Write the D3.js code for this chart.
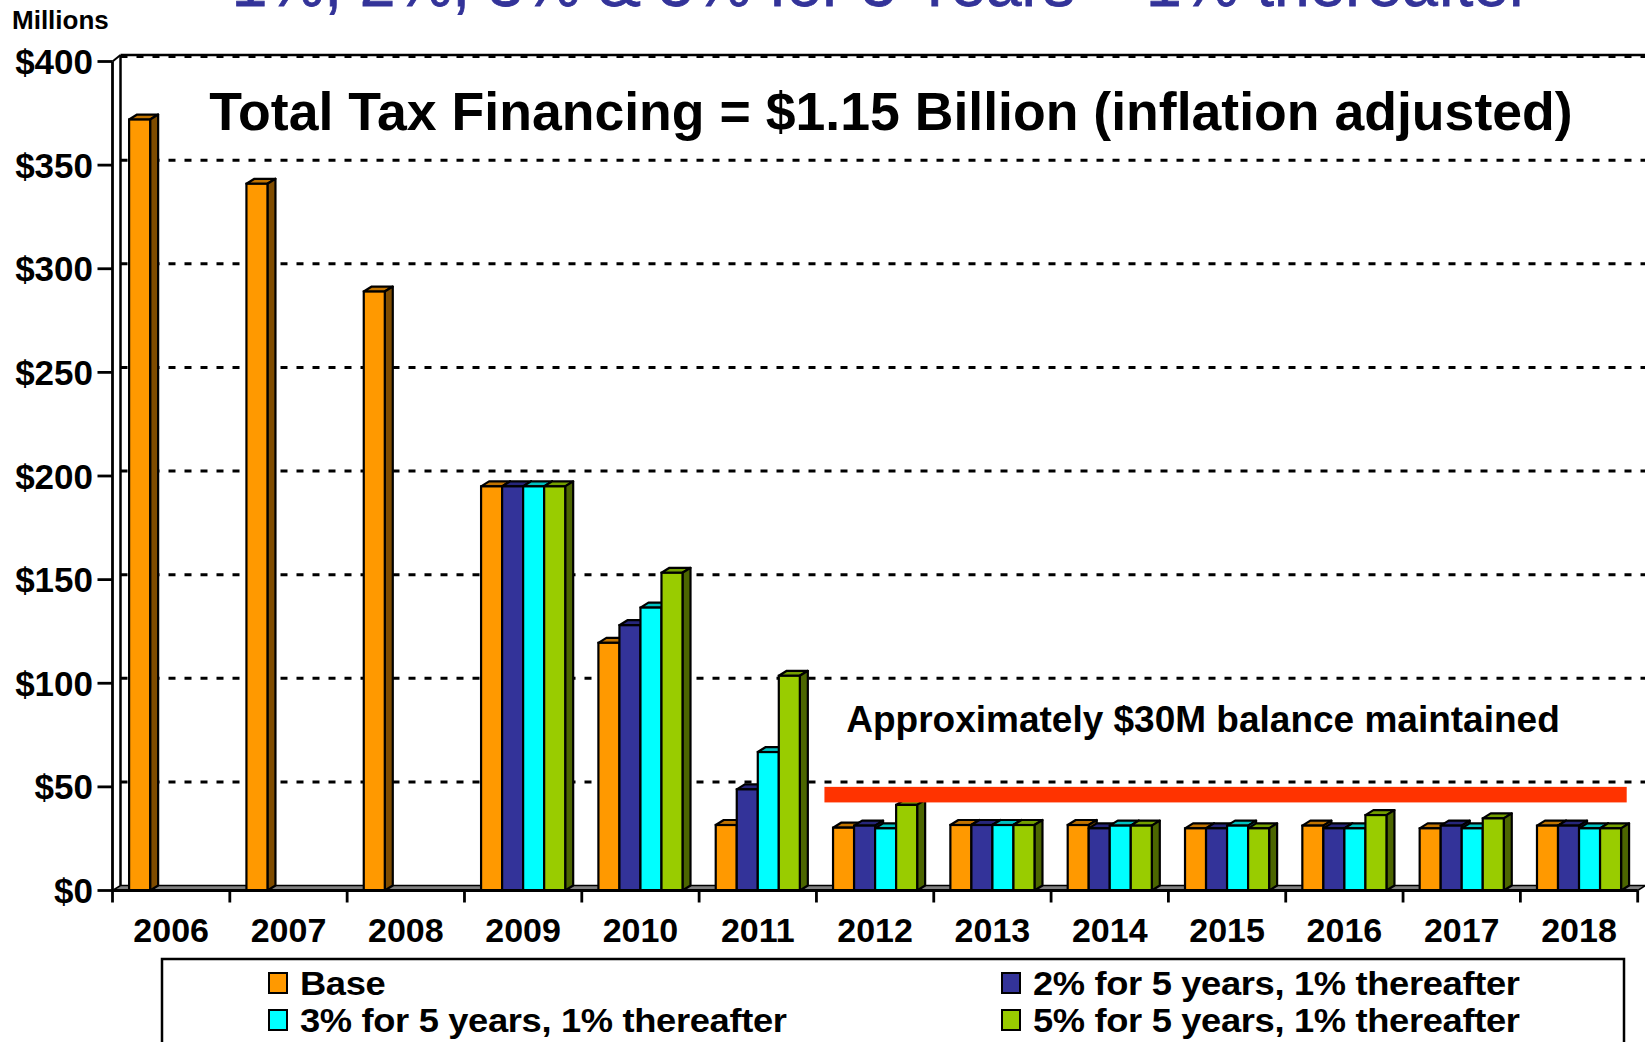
<!DOCTYPE html>
<html>
<head>
<meta charset="utf-8">
<script src="https://cdn.jsdelivr.net/npm/d3@7"></script>
<style>
  html, body { margin: 0; padding: 0; background: #ffffff; }
  svg { display: block; }
  text { font-family: Arial, "Liberation Sans", sans-serif; }
</style>
</head>
<body>
<svg id="chart" width="1645" height="1042"></svg>
<script>
// ---------- data ----------
const categories = ["2006","2007","2008","2009","2010","2011","2012","2013","2014","2015","2016","2017","2018"];
const seriesNames = ["Base","2% for 5 years, 1% thereafter","3% for 5 years, 1% thereafter","5% for 5 years, 1% thereafter"];
const baseValues   = [372, 341, 289, 195, 119.5, 31.6, 30.3, 31.6, 31.6, 30.0, 31.3, 30.0, 31.3];
const twoPctValues = [0, 0, 0, 195, 128.0, 48.8, 31.3, 31.6, 30.0, 30.0, 30.0, 31.3, 31.3];
const threePctValues = [0, 0, 0, 195, 136.5, 66.8, 30.0, 31.6, 31.3, 31.3, 30.0, 30.0, 30.0];
const fivePctValues  = [0, 0, 0, 195, 153.3, 103.6, 41.3, 31.6, 31.3, 30.0, 36.4, 34.8, 30.0];
const yTickValues = [0, 50, 100, 150, 200, 250, 300, 350, 400];
const yTickLabels = ["$0","$50","$100","$150","$200","$250","$300","$350","$400"];
const topTitle = "1%, 2%, 3% & 5% for 5 Years \u2013 1% thereafter";
const chartTitle = "Total Tax Financing = $1.15 Billion (inflation adjusted)";
const noteText = "Approximately $30M balance maintained";
const noteBand = [42.5, 50];          // value range of the red band
const noteBandCats = ["2012","2018"]; // categories the red band spans
const unitLabel = "Millions";

const seriesValues = [baseValues, twoPctValues, threePctValues, fivePctValues];
const frontColors = ["#FF9900","#333399","#00FFFF","#99CC00"];
const topColors   = ["#C27400","#26267A","#00C2C2","#74A000"];
const sideColors  = ["#7F4C00","#1A1A4D","#007F7F","#4C6600"];

// ---------- layout ----------
const svg = d3.select("#chart");
const y = d3.scaleLinear().domain([0, 400]).range([890.5, 61.5]);
const x0 = d3.scaleBand().domain(categories).range([112.5, 1637.7]).paddingInner(0).paddingOuter(0);
const x1 = d3.scaleBand().domain(seriesNames).range([0, x0.bandwidth()]).paddingInner(0).paddingOuter(0.79);
const dx = 8, dy = 5;
const y0 = y(0);
const xL = x0.range()[0], xR = x0.range()[1];

// top (cut-off) title
svg.append("text").attr("x", 881).attr("y", 6).attr("text-anchor", "middle")
  .attr("font-size", 64).attr("fill", "#333399").attr("stroke", "#333399").attr("stroke-width", 0.8)
  .text(topTitle);

// unit label
svg.append("text").attr("x", 12).attr("y", 29).attr("font-size", 26).attr("font-weight", "bold")
  .attr("fill", "#000").text(unitLabel);

// floor
svg.append("polygon")
  .attr("points", [[xL, y0], [xL + dx, y0 - dy], [xR + dx, y0 - dy], [xR, y0]].map(p => p.join(",")).join(" "))
  .attr("fill", "#808080").attr("stroke", "#000").attr("stroke-width", 1.5);

// back wall grid lines
svg.append("g").selectAll("line").data(yTickValues.filter(v => v > 0)).join("line")
  .attr("x1", xL + dx).attr("x2", xR + dx)
  .attr("y1", d => y(d) - dy).attr("y2", d => y(d) - dy)
  .attr("stroke", "#000").attr("stroke-width", 3).attr("stroke-dasharray", "7,9");

// back wall top border and left edge
svg.append("line").attr("x1", xL + dx).attr("x2", xR + dx)
  .attr("y1", y(400) - dy - 1.5).attr("y2", y(400) - dy - 1.5).attr("stroke", "#000").attr("stroke-width", 2.5);
svg.append("line").attr("x1", xL + dx).attr("x2", xL + dx)
  .attr("y1", y(400) - dy - 1.5).attr("y2", y0 - dy).attr("stroke", "#000").attr("stroke-width", 2.5);
svg.append("line").attr("x1", xL).attr("x2", xL + dx)
  .attr("y1", y(400)).attr("y2", y(400) - dy - 1.5).attr("stroke", "#000").attr("stroke-width", 2);

// bars
const barsG = svg.append("g");
categories.forEach((cat, ci) => {
  seriesNames.forEach((s, si) => {
    const v = seriesValues[si][ci];
    if (!(v > 0)) return;
    const bx = x0(cat) + x1(s), bw = x1.bandwidth(), by = y(v);
    barsG.append("polygon")
      .attr("points", [[bx, by], [bx + dx, by - dy], [bx + bw + dx, by - dy], [bx + bw, by]].map(p => p.join(",")).join(" "))
      .attr("fill", topColors[si]).attr("stroke", "#000").attr("stroke-width", 2.2).attr("stroke-linejoin", "round");
    barsG.append("polygon")
      .attr("points", [[bx + bw, by], [bx + bw + dx, by - dy], [bx + bw + dx, y0 - dy], [bx + bw, y0]].map(p => p.join(",")).join(" "))
      .attr("fill", sideColors[si]).attr("stroke", "#000").attr("stroke-width", 2.2).attr("stroke-linejoin", "round");
    barsG.append("rect")
      .attr("x", bx).attr("y", by).attr("width", bw).attr("height", y0 - by)
      .attr("fill", frontColors[si]).attr("stroke", "#000").attr("stroke-width", 2.2);
  });
});

// front axes
svg.append("line").attr("x1", xL).attr("x2", xR).attr("y1", y0).attr("y2", y0)
  .attr("stroke", "#000").attr("stroke-width", 2.8);
svg.append("line").attr("x1", xL).attr("x2", xL).attr("y1", y(400)).attr("y2", y0 + 12)
  .attr("stroke", "#000").attr("stroke-width", 2.8);

// y axis ticks & labels
const yAxisG = svg.append("g");
yTickValues.forEach((v, i) => {
  yAxisG.append("line").attr("x1", xL - 15).attr("x2", xL).attr("y1", y(v)).attr("y2", y(v))
    .attr("stroke", "#000").attr("stroke-width", 2.8);
  yAxisG.append("text").attr("x", 93).attr("y", y(v)).attr("dy", "0.36em")
    .attr("text-anchor", "end").attr("font-size", 35).attr("font-weight", "bold").text(yTickLabels[i]);
});

// x axis ticks & labels
const xAxisG = svg.append("g");
categories.forEach((cat, i) => {
  xAxisG.append("line").attr("x1", x0(cat) + x0.bandwidth()).attr("x2", x0(cat) + x0.bandwidth())
    .attr("y1", y0).attr("y2", y0 + 12).attr("stroke", "#000").attr("stroke-width", 2.8);
  xAxisG.append("text").attr("x", x0(cat) + x0.bandwidth() / 2).attr("y", 942)
    .attr("text-anchor", "middle").attr("font-size", 34).attr("font-weight", "bold").text(cat);
});

// chart title
svg.append("text").attr("x", 891).attr("y", 130).attr("text-anchor", "middle")
  .attr("font-size", 53.6).attr("font-weight", "bold").text(chartTitle);

// annotation band + note
const bandX1 = x0(noteBandCats[0]) + 8;
const bandX2 = x0(noteBandCats[1]) + x0.bandwidth() - 11;
svg.append("rect").attr("x", bandX1).attr("y", y(noteBand[1]))
  .attr("width", bandX2 - bandX1).attr("height", y(noteBand[0]) - y(noteBand[1]))
  .attr("fill", "#FF3300");
svg.append("text").attr("x", 1203).attr("y", 732).attr("text-anchor", "middle")
  .attr("font-size", 37).attr("font-weight", "bold").text(noteText);

// legend
svg.append("rect").attr("x", 162).attr("y", 959).attr("width", 1462).attr("height", 120)
  .attr("fill", "#fff").attr("stroke", "#000").attr("stroke-width", 2.5);
const legendPos = [[269, 995], [1002, 995], [269, 1032], [1002, 1032]];
seriesNames.forEach((s, i) => {
  const [lx, ly] = legendPos[i];
  svg.append("rect").attr("x", lx).attr("y", ly - 22).attr("width", 18).attr("height", 20)
    .attr("fill", frontColors[i]).attr("stroke", "#000").attr("stroke-width", 2);
  svg.append("text").attr("transform", `translate(${lx + 31},${ly}) scale(1.1,1)`)
    .attr("font-size", 33).attr("font-weight", "bold").attr("letter-spacing", -0.3).text(s);
});
</script>
</body>
</html>
